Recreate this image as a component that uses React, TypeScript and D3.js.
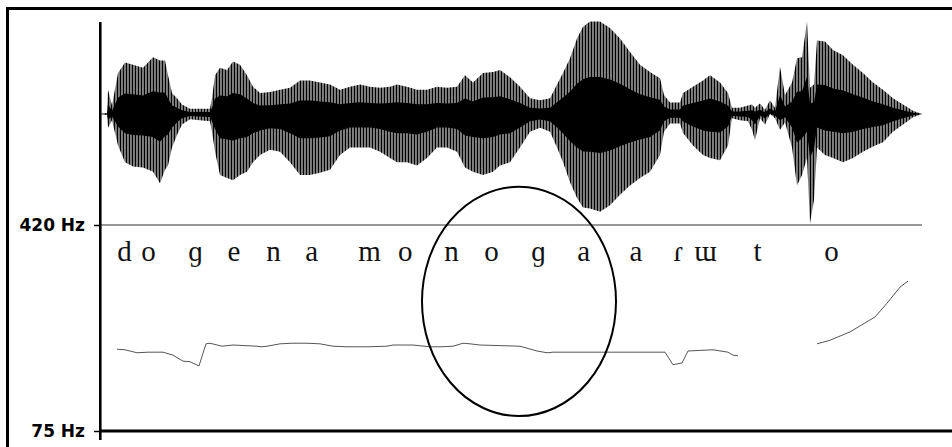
import React, { useRef, useEffect } from 'react';
import * as d3 from 'd3';

// waveform envelope (time in s, amplitude relative to full scale)
const waveT = [0, 0.0175, 0.02, 0.03, 0.045, 0.0625, 0.0825, 0.1075, 0.1325, 0.15, 0.1625, 0.17, 0.18, 0.1925, 0.205, 0.225, 0.25, 0.275, 0.28, 0.2875, 0.3, 0.3175, 0.3325, 0.35, 0.3675, 0.3825, 0.4, 0.425, 0.45, 0.475, 0.5, 0.525, 0.55, 0.575, 0.6, 0.625, 0.65, 0.675, 0.7, 0.725, 0.7425, 0.7675, 0.7925, 0.8175, 0.8425, 0.8675, 0.8925, 0.9125, 0.9325, 0.9575, 0.9825, 1.0, 1.025, 1.05, 1.075, 1.1, 1.125, 1.1425, 1.1575, 1.175, 1.1925, 1.2075, 1.225, 1.25, 1.275, 1.3, 1.325, 1.35, 1.375, 1.4, 1.41, 1.425, 1.45, 1.4575, 1.4825, 1.5075, 1.525, 1.55, 1.57, 1.58, 1.6, 1.62, 1.63, 1.6375, 1.65, 1.6625, 1.675, 1.6875, 1.7, 1.7125, 1.73, 1.7425, 1.755, 1.7675, 1.775, 1.785, 1.7925, 1.8125, 1.8325, 1.8575, 1.8825, 1.9075, 1.9325, 1.9575, 1.9825, 2.0075, 2.0325, 2.055];
const waveHi = [0, 0.01, 0.23, 0.08, 0.39, 0.49, 0.47, 0.44, 0.54, 0.51, 0.51, 0.37, 0.2, 0.15, 0.09, 0.05, 0.05, 0.05, 0.15, 0.37, 0.44, 0.42, 0.5, 0.47, 0.37, 0.26, 0.2, 0.21, 0.23, 0.25, 0.32, 0.32, 0.3, 0.28, 0.23, 0.26, 0.28, 0.26, 0.25, 0.26, 0.28, 0.26, 0.23, 0.23, 0.26, 0.25, 0.26, 0.37, 0.3, 0.39, 0.4, 0.42, 0.35, 0.26, 0.15, 0.13, 0.15, 0.28, 0.39, 0.53, 0.72, 0.83, 0.88, 0.88, 0.82, 0.72, 0.59, 0.47, 0.4, 0.34, 0.18, 0.11, 0.11, 0.2, 0.26, 0.32, 0.37, 0.3, 0.2, 0.06, 0.06, 0.08, 0.09, 0.06, 0.1, 0.04, 0.13, 0.06, 0.45, 0.18, 0.3, 0.53, 0.54, 0.88, 0.25, 0.28, 0.7, 0.69, 0.61, 0.56, 0.47, 0.39, 0.3, 0.23, 0.15, 0.09, 0.03, 0];
const waveLo = [0, -0.01, -0.13, -0.06, -0.3, -0.46, -0.5, -0.51, -0.55, -0.66, -0.53, -0.49, -0.32, -0.2, -0.1, -0.05, -0.06, -0.07, -0.17, -0.36, -0.58, -0.61, -0.63, -0.58, -0.55, -0.46, -0.39, -0.34, -0.36, -0.46, -0.58, -0.58, -0.56, -0.53, -0.39, -0.32, -0.32, -0.32, -0.36, -0.42, -0.46, -0.46, -0.49, -0.42, -0.32, -0.32, -0.36, -0.51, -0.55, -0.58, -0.55, -0.49, -0.46, -0.32, -0.17, -0.13, -0.17, -0.32, -0.46, -0.65, -0.8, -0.89, -0.9, -0.93, -0.87, -0.77, -0.68, -0.61, -0.55, -0.39, -0.17, -0.09, -0.09, -0.18, -0.3, -0.39, -0.42, -0.44, -0.3, -0.04, -0.06, -0.07, -0.15, -0.25, -0.04, -0.1, 0, -0.04, -0.15, -0.08, -0.32, -0.68, -0.58, -0.42, -1.04, -0.82, -0.32, -0.39, -0.42, -0.46, -0.42, -0.36, -0.31, -0.27, -0.17, -0.1, -0.03, 0];

// pitch track (Hz), null = unvoiced
const pitchT = [0.0425, 0.0625, 0.0925, 0.12, 0.1575, 0.1825, 0.2075, 0.225, 0.2475, 0.265, 0.275, 0.305, 0.3325, 0.3925, 0.405, 0.4175, 0.45, 0.48, 0.5175, 0.55, 0.5825, 0.6175, 0.6675, 0.7175, 0.7325, 0.7825, 0.825, 0.85, 0.8825, 0.9075, 0.925, 0.95, 1.05, 1.0925, 1.1175, 1.1325, 1.25, 1.4125, 1.4325, 1.455, 1.47, 1.5325, 1.57, 1.5825, 1.595, 1.7, 1.7925, 1.825, 1.875, 1.9375, 1.9675, 2.0, 2.02];
const pitchHz = [212, 211, 206, 207, 207, 202, 192, 191, 184, 221, 222, 217, 219, 217, 216, 217, 221, 222, 222, 221, 217, 216, 216, 217, 219, 219, 216, 216, 217, 222, 221, 219, 217, 209, 206, 207, 207, 207, 186, 189, 209, 211, 207, 202, 201, null, 221, 227, 241, 266, 289, 316, 326];

// segment labels (IPA) and their times
const segLabels = ['d', 'o', 'ɡ', 'e', 'n', 'a', 'm', 'o', 'n', 'o', 'ɡ', 'a', 'a', 'ɾ', 'ɯ', 't', 'o'];
const segT = [0.061, 0.121, 0.239, 0.335, 0.434, 0.529, 0.674, 0.763, 0.879, 0.979, 1.096, 1.209, 1.34, 1.446, 1.514, 1.644, 1.829];

const hzTicks = [75, 420];
// highlighted region: time range and Hz range
const markT = [0.805, 1.29];
const markHz = [100, 484];

const App: React.FC = () => {
  const svgRef = useRef<SVGSVGElement | null>(null);

  useEffect(() => {
    if (!svgRef.current) return;
    const svg = d3.select(svgRef.current);
    svg.selectAll('*').remove();

    const x = d3.scaleLinear().domain([0, 2.055]).range([100, 922]);
    const amp = d3.scaleLinear().domain([-1, 1]).range([219, 9]);
    const hz = d3.scaleLinear().domain([75, 420]).range([431, 225]);

    // frame
    svg.append('path')
      .attr('d', 'M7.5,447V8.5H952')
      .attr('fill', 'none')
      .attr('stroke', '#000')
      .attr('stroke-width', 3);

    const defs = svg.append('defs');
    const pat = defs.append('pattern')
      .attr('id', 'pulses')
      .attr('patternUnits', 'userSpaceOnUse')
      .attr('width', 3)
      .attr('height', 10);
    pat.append('rect').attr('x', 0).attr('y', 0).attr('width', 1.5).attr('height', 10).attr('fill', '#000');
    pat.append('rect').attr('x', 2).attr('y', 0).attr('width', 0.8).attr('height', 10).attr('fill', '#555');

    const idx = d3.range(waveT.length);
    const env = d3.area<number>()
      .x(i => x(waveT[i]))
      .y0(i => amp(waveLo[i]))
      .y1(i => amp(waveHi[i]));
    svg.append('path')
      .attr('d', env(idx))
      .attr('fill', 'url(#pulses)');

    const core = d3.area<number>()
      .x(i => x(waveT[i]))
      .y0(i => amp(waveLo[i] * 0.4))
      .y1(i => amp(waveHi[i] * 0.4));
    svg.append('path')
      .attr('d', core(idx))
      .attr('fill', '#000');

    // 420 Hz line and baseline
    svg.append('line')
      .attr('x1', 100).attr('x2', 922)
      .attr('y1', hz(420)).attr('y2', hz(420))
      .attr('stroke', '#333').attr('stroke-width', 1.2);
    svg.append('line')
      .attr('x1', 100).attr('x2', 952)
      .attr('y1', hz(75)).attr('y2', hz(75))
      .attr('stroke', '#000').attr('stroke-width', 3);

    // y axis
    const yAxis = d3.axisLeft(hz)
      .tickValues(hzTicks)
      .tickFormat(d => `${d} Hz`)
      .tickSize(6)
      .tickPadding(9);
    const ag = svg.append('g').attr('transform', 'translate(100,0)').call(yAxis);
    ag.select('.domain').remove();
    ag.selectAll('.tick line').attr('stroke', '#000').attr('stroke-width', 1.5);
    ag.selectAll('.tick text')
      .attr('font-family', 'DejaVu Sans')
      .attr('font-weight', 'bold')
      .attr('font-size', 17)
      .attr('fill', '#000');
    svg.append('line')
      .attr('x1', 100.3).attr('x2', 100.3)
      .attr('y1', 22).attr('y2', 440)
      .attr('stroke', '#000').attr('stroke-width', 2.6);

    // segment labels
    svg.append('g')
      .selectAll('text')
      .data(segLabels)
      .enter()
      .append('text')
      .attr('x', (_, i) => x(segT[i]))
      .attr('y', 261)
      .attr('text-anchor', 'middle')
      .attr('font-family', 'Liberation Serif')
      .attr('font-size', 29)
      .attr('fill', '#111')
      .text(d => d);

    // pitch contour
    const pidx = d3.range(pitchT.length);
    const pline = d3.line<number>()
      .defined(i => pitchHz[i] !== null)
      .x(i => x(pitchT[i]))
      .y(i => hz(pitchHz[i] as number));
    svg.append('path')
      .attr('d', pline(pidx))
      .attr('fill', 'none')
      .attr('stroke', '#555')
      .attr('stroke-width', 1);

    // highlight ellipse
    svg.append('ellipse')
      .attr('cx', (x(markT[0]) + x(markT[1])) / 2)
      .attr('cy', (hz(markHz[0]) + hz(markHz[1])) / 2)
      .attr('rx', (x(markT[1]) - x(markT[0])) / 2)
      .attr('ry', (hz(markHz[0]) - hz(markHz[1])) / 2)
      .attr('fill', 'none')
      .attr('stroke', '#000')
      .attr('stroke-width', 2);
  }, []);

  return (
    <svg ref={svgRef} width={952} height={447}
      style={{ position: 'absolute', left: 0, top: 0, background: '#fff' }} />
  );
};

export default App;
